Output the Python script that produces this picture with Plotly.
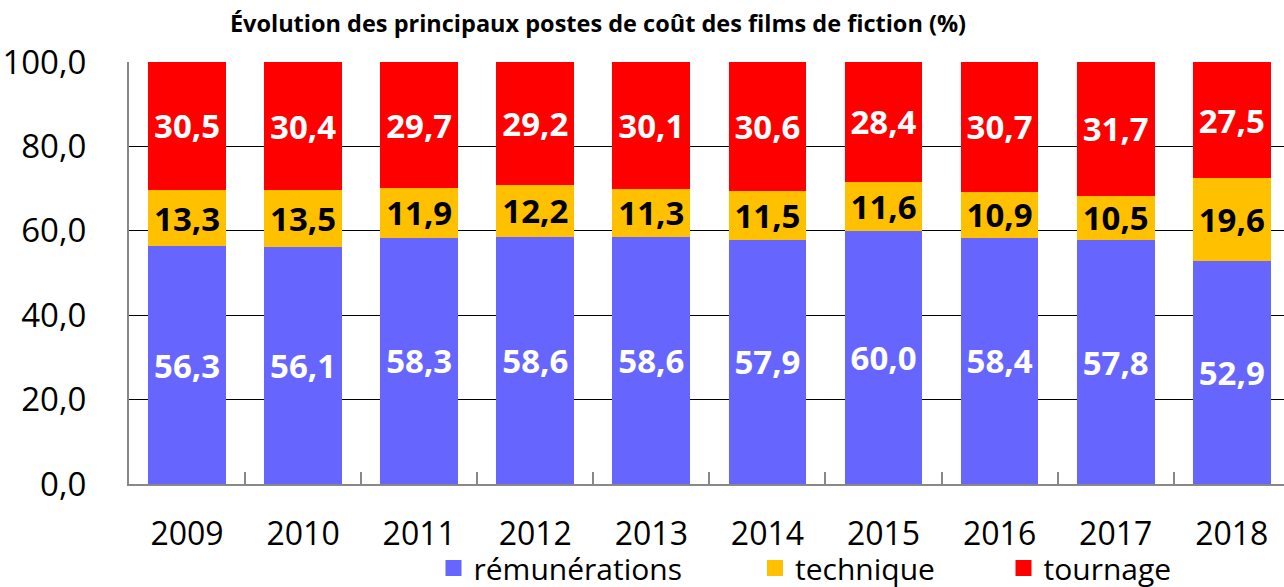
import plotly.graph_objects as go

years = ["2009", "2010", "2011", "2012", "2013", "2014", "2015", "2016", "2017", "2018"]
remunerations = [56.3, 56.1, 58.3, 58.6, 58.6, 57.9, 60.0, 58.4, 57.8, 52.9]
technique = [13.3, 13.5, 11.9, 12.2, 11.3, 11.5, 11.6, 10.9, 10.5, 19.6]
tournage = [30.5, 30.4, 29.7, 29.2, 30.1, 30.6, 28.4, 30.7, 31.7, 27.5]
y_ticks = [0, 20, 40, 60, 80, 100]
y_ticktext = ["0,0", "20,0", "40,0", "60,0", "80,0", "100,0"]

FONT = "'Open Sans', 'Noto Sans', sans-serif"
W, H = 1284, 587

fig = go.Figure()
series = [
    ("rémunérations", remunerations, "#6666FF", "white", "legend", 453.5),
    ("technique", technique, "#FFC000", "black", "legend2", 775),
    ("tournage", tournage, "#FF0000", "white", "legend3", 1023.5),
]
for name, vals, color, tcolor, leg, lx in series:
    fig.add_trace(go.Bar(
        x=years, y=vals, name=name, showlegend=False,
        marker=dict(color=color, line=dict(width=0)),
        texttemplate="%{y:.1f}", textposition="inside", insidetextanchor="middle",
        textfont=dict(color=tcolor, size=33, family=FONT, weight="bold"),
        textangle=0, constraintext="none",
    ))
    # legend entry (marker only, no data drawn)
    fig.add_trace(go.Scatter(
        x=[None], y=[None], name=name, mode="markers", legend=leg,
        marker=dict(symbol="square", size=21, color=color, line=dict(width=0)),
        showlegend=True, hoverinfo="skip",
    ))

legend_common = dict(orientation="h", xref="container", yref="container",
                     xanchor="left", yanchor="middle", y=1 - 568 / H,
                     font=dict(size=30, family=FONT, color="black"),
                     bgcolor="rgba(0,0,0,0)", borderwidth=0, itemsizing="trace")

fig.update_layout(
    barmode="stack",
    bargap=0.33,
    separators=", ",
    width=W, height=H,
    margin=dict(l=129, r=0, t=62, b=103, autoexpand=False),
    paper_bgcolor="white", plot_bgcolor="white",
    font=dict(family=FONT, size=32, color="black"),
    title=dict(text="<b>Évolution des principaux postes de coût des films de fiction (%)</b>",
               x=598 / W, xanchor="center", xref="container",
               y=1 - 24 / H, yanchor="middle", yref="container",
               font=dict(size=23.5, family=FONT, color="black")),
    legend=dict(legend_common, x=(453.5 - 20) / W),
    legend2=dict(legend_common, x=(775 - 20) / W),
    legend3=dict(legend_common, x=(1023.5 - 20) / W),
    xaxis=dict(range=[-0.5, 9.45], showline=True, linecolor="#888888", linewidth=2,
               ticks="inside", tickson="boundaries", ticklen=12, tickcolor="#888888",
               tickwidth=2, ticklabelstandoff=21, showgrid=False,
               tickfont=dict(size=32, family=FONT)),
    yaxis=dict(range=[0, 100], tickvals=y_ticks, ticktext=y_ticktext,
               showline=True, linecolor="#888888", linewidth=2,
               showgrid=True, gridcolor="black", gridwidth=1, zeroline=False,
               ticks="", ticklabelstandoff=34, tickfont=dict(size=33, family=FONT)),
)

fig.write_html("out.html", config={"displayModeBar": False},
               post_script="document.body.style.margin='0';document.body.style.overflow='hidden';")
